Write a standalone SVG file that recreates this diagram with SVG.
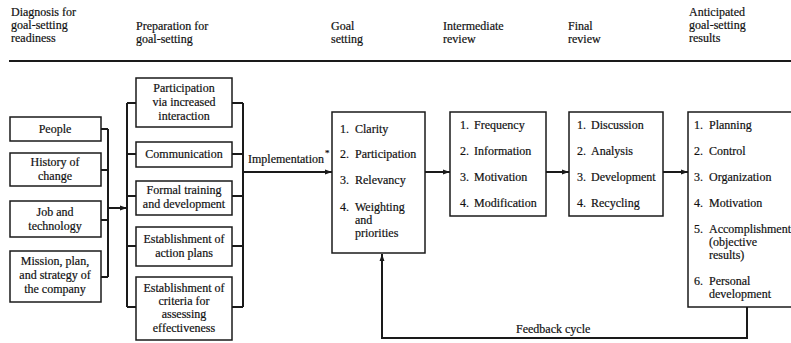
<svg xmlns="http://www.w3.org/2000/svg" width="791" height="343" viewBox="0 0 791 343">
<defs>
<style>
text{font-family:"Liberation Serif","Times New Roman",serif;font-size:12px;fill:#111;stroke:#111;stroke-width:0.2}
.c{text-anchor:middle}
.box{fill:#fff;stroke:#1a1a1a;stroke-width:1.5}
.ln{fill:none;stroke:#1a1a1a;stroke-width:2}
</style>
<marker id="ah" viewBox="0 0 10 10" refX="10" refY="5" markerWidth="7" markerHeight="7" markerUnits="userSpaceOnUse" orient="auto"><path d="M0,1.5 L10,5 L0,8.5 z" fill="#1a1a1a"/></marker>
</defs>
<rect width="791" height="343" fill="#fff"/>
<g id="header">
<text x="11" y="16">Diagnosis for</text>
<text x="11" y="29">goal-setting</text>
<text x="11" y="42">readiness</text>
<text x="136" y="30">Preparation for</text>
<text x="136" y="43">goal-setting</text>
<text x="331" y="30">Goal</text>
<text x="331" y="43">setting</text>
<text x="443" y="30">Intermediate</text>
<text x="443" y="43">review</text>
<text x="568" y="30">Final</text>
<text x="568" y="43">review</text>
<text x="689" y="16">Anticipated</text>
<text x="689" y="29">goal-setting</text>
<text x="689" y="42">results</text>
<line x1="9" y1="61" x2="791" y2="61" stroke="#1a1a1a" stroke-width="2"/>
</g>
<g id="connectors">
<path class="ln" d="M101,129 H108 M101,170 H108 M101,220 H108 M101,277 H108 M108,129 V277"/>
<path class="ln" d="M108,208 H127" marker-end="url(#ah)"/>
<path class="ln" d="M127,103 V307 M127,103 H136 M127,154 H136 M127,196 H136 M127,246 H136 M127,307 H136"/>
<path class="ln" d="M243,103 V307 M232,103 H243 M232,154 H243 M232,196 H243 M232,246 H243 M232,307 H243"/>
<path class="ln" d="M243,172 H332" marker-end="url(#ah)"/>
<path class="ln" d="M425,172 H450" marker-end="url(#ah)"/>
<path class="ln" d="M546,172 H569" marker-end="url(#ah)"/>
<path class="ln" d="M663,172 H688" marker-end="url(#ah)"/>
<path class="ln" d="M747,307 V338 H382 V254" marker-end="url(#ah)"/>
<text x="248" y="163">Implementation</text>
<text x="325" y="156" style="font-size:9px">*</text>
<text x="516" y="333">Feedback cycle</text>
</g>
<g id="people"><rect class="box" x="10" y="117" width="91" height="24"/><text class="c" x="55" y="133">People</text></g>
<g id="history"><rect class="box" x="10" y="153" width="91" height="33"/><text class="c" x="55" y="166">History of</text><text class="c" x="55" y="180">change</text></g>
<g id="job"><rect class="box" x="10" y="201" width="91" height="36"/><text class="c" x="55" y="216">Job and</text><text class="c" x="55" y="230">technology</text></g>
<g id="mission"><rect class="box" x="10" y="251" width="91" height="51"/><text class="c" x="55" y="265">Mission, plan,</text><text class="c" x="55" y="279">and strategy of</text><text class="c" x="55" y="293">the company</text></g>
<g id="participation"><rect class="box" x="136" y="78" width="96" height="49"/><text class="c" x="184" y="92">Participation</text><text class="c" x="184" y="106">via increased</text><text class="c" x="184" y="120">interaction</text></g>
<g id="communication"><rect class="box" x="136" y="142" width="96" height="25"/><text class="c" x="184" y="158">Communication</text></g>
<g id="training"><rect class="box" x="136" y="181" width="96" height="34"/><text class="c" x="184" y="194">Formal training</text><text class="c" x="184" y="208">and development</text></g>
<g id="actionplans"><rect class="box" x="136" y="227" width="96" height="39"/><text class="c" x="184" y="243">Establishment of</text><text class="c" x="184" y="257">action plans</text></g>
<g id="criteria"><rect class="box" x="136" y="277" width="96" height="63"/><text class="c" x="184" y="292">Establishment of</text><text class="c" x="184" y="305">criteria for</text><text class="c" x="184" y="318">assessing</text><text class="c" x="184" y="332">effectiveness</text></g>
<g id="goalsetting"><rect class="box" x="332" y="112" width="93" height="141"/>
<text x="340" y="133">1.</text><text x="355" y="133">Clarity</text>
<text x="340" y="158">2.</text><text x="355" y="158">Participation</text>
<text x="340" y="184">3.</text><text x="355" y="184">Relevancy</text>
<text x="340" y="211">4.</text><text x="355" y="211">Weighting</text><text x="355" y="224">and</text><text x="355" y="237">priorities</text></g>
<g id="intermediate"><rect class="box" x="450" y="112" width="96" height="104"/>
<text x="460" y="129">1.</text><text x="474" y="129">Frequency</text>
<text x="460" y="155">2.</text><text x="474" y="155">Information</text>
<text x="460" y="181">3.</text><text x="474" y="181">Motivation</text>
<text x="460" y="207">4.</text><text x="474" y="207">Modification</text></g>
<g id="final"><rect class="box" x="569" y="112" width="94" height="104"/>
<text x="577" y="129">1.</text><text x="591" y="129">Discussion</text>
<text x="577" y="155">2.</text><text x="591" y="155">Analysis</text>
<text x="577" y="181">3.</text><text x="591" y="181">Development</text>
<text x="577" y="207">4.</text><text x="591" y="207">Recycling</text></g>
<g id="results"><rect class="box" x="688" y="112" width="120" height="195"/>
<text x="694" y="129">1.</text><text x="709" y="129">Planning</text>
<text x="694" y="155">2.</text><text x="709" y="155">Control</text>
<text x="694" y="181">3.</text><text x="709" y="181">Organization</text>
<text x="694" y="207">4.</text><text x="709" y="207">Motivation</text>
<text x="694" y="233">5.</text><text x="709" y="233">Accomplishment</text><text x="709" y="246">(objective</text><text x="709" y="259">results)</text>
<text x="694" y="285">6.</text><text x="709" y="285">Personal</text><text x="709" y="298">development</text></g>
</svg>
